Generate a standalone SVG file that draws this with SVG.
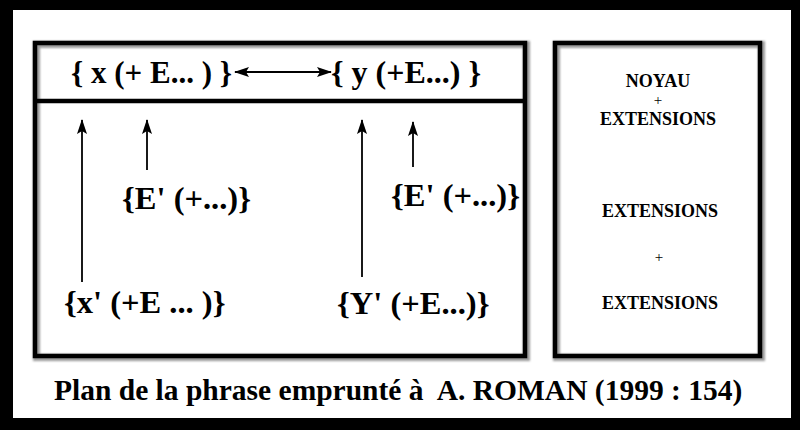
<svg xmlns="http://www.w3.org/2000/svg" width="800" height="430" viewBox="0 0 800 430">
<defs>
<filter id="sh" x="-5%" y="-5%" width="110%" height="110%"><feGaussianBlur stdDeviation="1.2"/></filter>
<marker id="ah" viewBox="0 0 15 10" refX="14" refY="5" markerWidth="15" markerHeight="10" markerUnits="userSpaceOnUse" orient="auto-start-reverse"><path d="M0,0 L15,5 L0,10 L3,5 z" fill="#000"/></marker>
</defs>
<style>
.t{font-family:"Liberation Serif","Times New Roman",serif;font-weight:bold;fill:#000}
.s{font-family:"Liberation Serif","Times New Roman",serif;font-weight:bold;fill:#000;font-size:18px;text-anchor:middle}
.p{font-family:"Liberation Serif","Times New Roman",serif;font-weight:normal;fill:#000;font-size:15px;text-anchor:middle}
.box{fill:none;stroke:#000;stroke-width:4.5}
.shd{fill:none;stroke:#999;stroke-width:7;filter:url(#sh)}
.c{stroke:#000;stroke-width:1.8;fill:none;marker-end:url(#ah)}
</style>
<rect x="0" y="0" width="800" height="430" fill="#000"/>
<rect x="13" y="10" width="778" height="408" fill="#fff"/>
<g id="left-box">
<rect class="shd" x="36.5" y="44.5" width="490" height="313"/>
<line class="shd" x1="36.5" y1="102.5" x2="526.5" y2="102.5"/>
<rect class="box" x="35" y="43" width="490" height="313"/>
<line class="box" x1="35" y1="101" x2="525" y2="101"/>
</g>
<g id="right-box">
<rect class="shd" x="556.5" y="44.5" width="205" height="313"/>
<rect class="box" x="555" y="43" width="205" height="313"/>
</g>
<g id="connectors">
<line class="c" style="marker-start:url(#ah)" x1="235" y1="72" x2="331" y2="72"/>
<line class="c" x1="82" y1="282" x2="82" y2="120"/>
<line class="c" x1="147" y1="170" x2="147" y2="120"/>
<line class="c" x1="362" y1="277" x2="362" y2="120"/>
<line class="c" x1="413" y1="167" x2="413" y2="122"/>
</g>
<g id="node-x"><text class="t" x="71" y="83" font-size="31">{ x (+ E... ) }</text></g>
<g id="node-y"><text class="t" x="331" y="83" font-size="32">{ y (+E...) }</text></g>
<g id="node-e1"><text class="t" x="122" y="209" font-size="32.5">{E' (+...)}</text></g>
<g id="node-e2"><text class="t" x="391" y="206" font-size="32.5">{E' (+...)}</text></g>
<g id="node-x2"><text class="t" x="64" y="313" font-size="32.5">{x' (+E ... )}</text></g>
<g id="node-y2"><text class="t" x="337" y="314" font-size="32.5">{Y' (+E...)}</text></g>
<g id="legend">
<text class="s" x="658" y="86.5">NOYAU</text>
<text class="p" x="658" y="105">+</text>
<text class="s" x="658" y="125" font-size="18.5">EXTENSIONS</text>
<text class="s" x="660" y="217">EXTENSIONS</text>
<text class="p" x="659" y="262">+</text>
<text class="s" x="660" y="309">EXTENSIONS</text>
</g>
<g id="caption"><text class="t" x="54" y="400" font-size="29.5" xml:space="preserve">Plan de la phrase emprunté à  A. ROMAN (1999 : 154)</text></g>
</svg>
